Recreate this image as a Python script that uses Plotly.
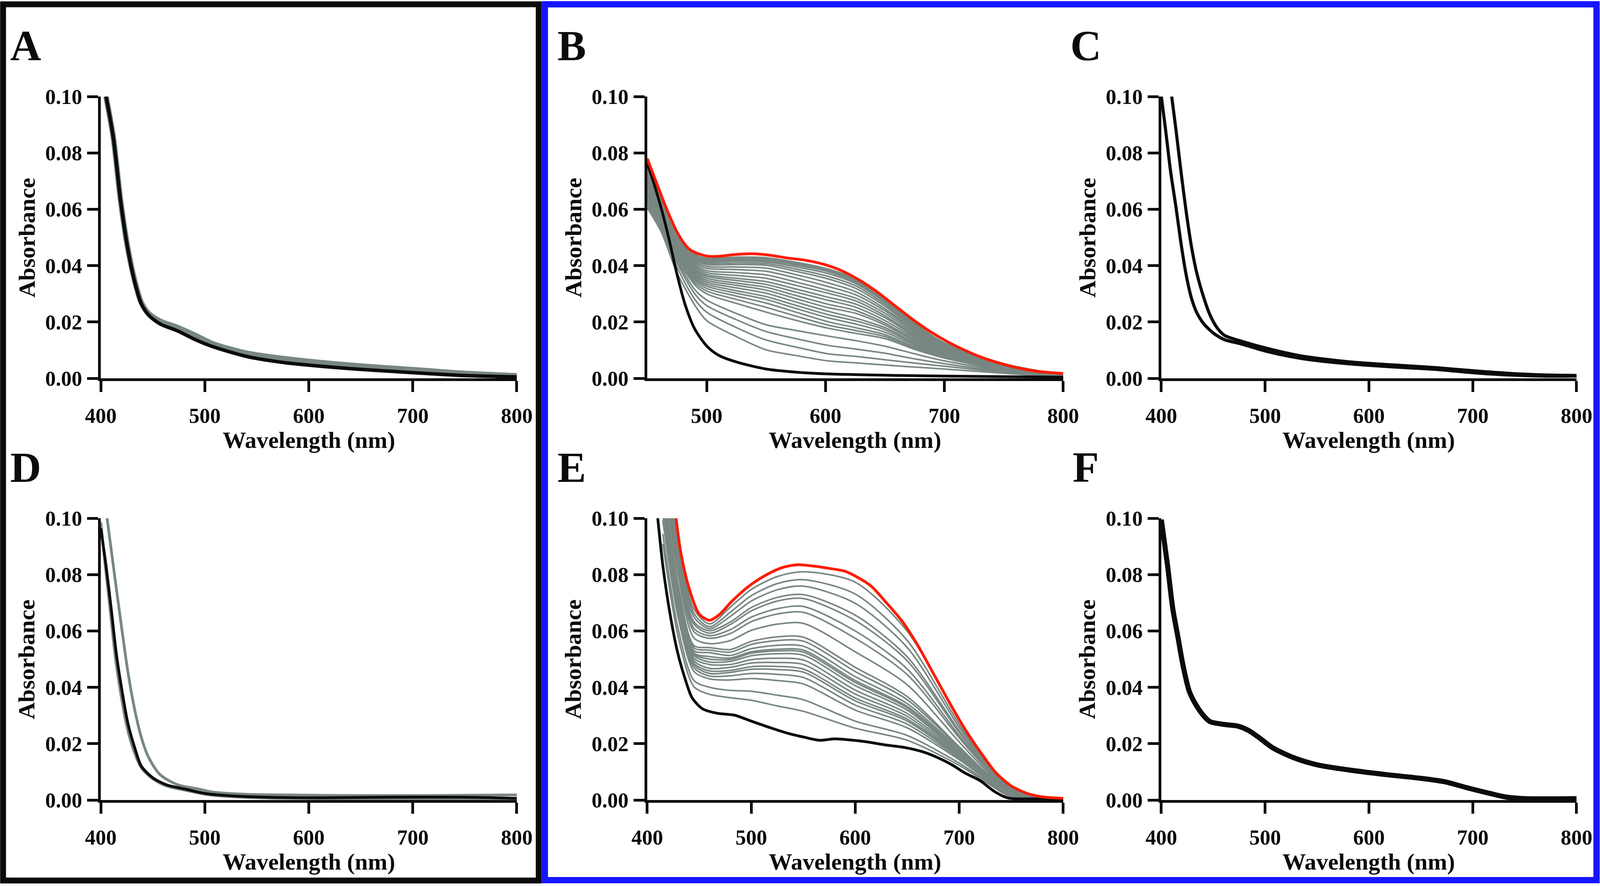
import plotly.graph_objects as go
from plotly.subplots import make_subplots

# ---------------------------------------------------------------------------
# Values (wavelength in nm, absorbance)
# ---------------------------------------------------------------------------

# Panel A
A_WL = [405, 412, 419, 426, 433, 439, 446, 457, 474, 491, 508, 542, 576, 611, 645, 679, 714, 748, 800]
A_BLACK = [0.100, 0.0855, 0.0631, 0.0458, 0.0336, 0.0264, 0.0224, 0.0193, 0.0168, 0.0137, 0.0112,
           0.0076, 0.0056, 0.0043, 0.0033, 0.0025, 0.0017, 0.0010, 0.0005]
A_GRAY = [0.100, 0.0855, 0.0631, 0.0460, 0.0340, 0.0268, 0.0230, 0.0203, 0.0180, 0.0152, 0.0122,
          0.0088, 0.0070, 0.0056, 0.0045, 0.0036, 0.0027, 0.0018, 0.0009]

# Panel B
B_RED_WL = [450, 455, 460, 465, 470, 475, 480, 485, 490, 500, 510, 523, 538, 553, 568, 583, 598,
            613, 628, 643, 658, 673, 688, 703, 718, 733, 748, 763, 778, 800]
B_RED = [0.078, 0.0725, 0.067, 0.0615, 0.0565, 0.0520, 0.0485, 0.0460, 0.0447, 0.0434, 0.0433,
         0.0439, 0.0442, 0.0437, 0.0427, 0.0419, 0.0405, 0.0383, 0.0350, 0.0308, 0.0259, 0.0210,
         0.0166, 0.0129, 0.0098, 0.0072, 0.0052, 0.0036, 0.0025, 0.0017]
B_BLACK_WL = [450, 455, 462, 468, 475, 482, 490, 500, 510, 525, 550, 575, 600, 650, 700, 750, 800]
B_BLACK = [0.0763, 0.070, 0.060, 0.050, 0.037, 0.026, 0.0175, 0.0115, 0.0082, 0.0058, 0.0033,
           0.0022, 0.0016, 0.0011, 0.0008, 0.0006, 0.0004]
B_GRAY_WL = [450, 462, 475, 490, 500, 525, 550, 575, 602, 625, 650, 675, 700, 750, 800]
B_GRAY = [
    [0.0770, 0.0650, 0.0505, 0.0440, 0.0426, 0.0430, 0.0428, 0.0412, 0.0388, 0.0353, 0.0284, 0.0195, 0.0126, 0.0052, 0.0012],
    [0.0763, 0.0645, 0.0500, 0.0436, 0.0422, 0.0425, 0.0423, 0.0407, 0.0383, 0.0348, 0.0280, 0.0192, 0.0124, 0.0051, 0.0012],
    [0.0756, 0.0640, 0.0496, 0.0432, 0.0418, 0.0421, 0.0418, 0.0402, 0.0379, 0.0343, 0.0275, 0.0189, 0.0122, 0.0050, 0.0011],
    [0.0749, 0.0635, 0.0492, 0.0428, 0.0414, 0.0416, 0.0413, 0.0396, 0.0372, 0.0337, 0.0270, 0.0186, 0.0120, 0.0049, 0.0011],
    [0.0742, 0.0630, 0.0488, 0.0424, 0.0409, 0.0410, 0.0407, 0.0388, 0.0362, 0.0329, 0.0263, 0.0181, 0.0117, 0.0048, 0.0011],
    [0.0735, 0.0625, 0.0484, 0.0420, 0.0404, 0.0404, 0.0401, 0.0380, 0.0353, 0.0320, 0.0256, 0.0176, 0.0114, 0.0047, 0.0010],
    [0.0728, 0.0620, 0.0480, 0.0414, 0.0397, 0.0395, 0.0391, 0.0368, 0.0339, 0.0308, 0.0247, 0.0170, 0.0111, 0.0046, 0.0010],
    [0.0721, 0.0615, 0.0476, 0.0408, 0.0390, 0.0386, 0.0380, 0.0356, 0.0326, 0.0297, 0.0240, 0.0166, 0.0108, 0.0045, 0.0010],
    [0.0714, 0.0610, 0.0472, 0.0402, 0.0382, 0.0375, 0.0367, 0.0342, 0.0312, 0.0285, 0.0231, 0.0160, 0.0105, 0.0044, 0.0009],
    [0.0707, 0.0605, 0.0468, 0.0396, 0.0375, 0.0365, 0.0355, 0.0330, 0.0302, 0.0275, 0.0222, 0.0154, 0.0102, 0.0042, 0.0009],
    [0.0700, 0.0600, 0.0464, 0.0390, 0.0368, 0.0355, 0.0343, 0.0317, 0.0288, 0.0264, 0.0215, 0.0150, 0.0099, 0.0041, 0.0009],
    [0.0693, 0.0595, 0.0460, 0.0384, 0.0362, 0.0347, 0.0333, 0.0306, 0.0277, 0.0253, 0.0205, 0.0144, 0.0096, 0.0040, 0.0008],
    [0.0686, 0.0590, 0.0456, 0.0378, 0.0355, 0.0338, 0.0323, 0.0294, 0.0263, 0.0241, 0.0196, 0.0138, 0.0093, 0.0039, 0.0008],
    [0.0679, 0.0585, 0.0452, 0.0372, 0.0348, 0.0330, 0.0313, 0.0283, 0.0251, 0.0231, 0.0189, 0.0134, 0.0090, 0.0038, 0.0008],
    [0.0672, 0.0580, 0.0448, 0.0366, 0.0341, 0.0321, 0.0302, 0.0271, 0.0238, 0.0214, 0.0180, 0.0128, 0.0087, 0.0036, 0.0007],
    [0.0665, 0.0575, 0.0444, 0.0360, 0.0334, 0.0311, 0.0290, 0.0259, 0.0226, 0.0204, 0.0173, 0.0123, 0.0084, 0.0035, 0.0007],
    [0.0658, 0.0570, 0.0440, 0.0354, 0.0327, 0.0302, 0.0280, 0.0248, 0.0215, 0.0193, 0.0164, 0.0118, 0.0081, 0.0034, 0.0007],
    [0.0651, 0.0565, 0.0436, 0.0348, 0.0319, 0.0292, 0.0267, 0.0235, 0.0201, 0.0180, 0.0155, 0.0112, 0.0078, 0.0033, 0.0006],
    [0.0644, 0.0560, 0.0432, 0.0340, 0.0310, 0.0280, 0.0252, 0.0221, 0.0189, 0.0170, 0.0148, 0.0107, 0.0075, 0.0031, 0.0006],
    [0.0637, 0.0555, 0.0428, 0.0332, 0.0300, 0.0266, 0.0235, 0.0206, 0.0178, 0.0160, 0.0141, 0.0103, 0.0072, 0.0030, 0.0006],
    [0.0630, 0.0548, 0.0420, 0.0315, 0.0278, 0.0230, 0.0190, 0.0170, 0.0150, 0.0134, 0.0114, 0.0087, 0.0062, 0.0027, 0.0005],
    [0.0622, 0.0540, 0.0410, 0.0300, 0.0258, 0.0208, 0.0166, 0.0141, 0.0117, 0.0104, 0.0089, 0.0069, 0.0052, 0.0024, 0.0005],
    [0.0614, 0.0530, 0.0395, 0.0280, 0.0235, 0.0180, 0.0136, 0.0111, 0.0087, 0.0078, 0.0066, 0.0054, 0.0043, 0.0021, 0.0004],
    [0.0605, 0.0518, 0.0375, 0.0260, 0.0205, 0.0148, 0.0101, 0.0081, 0.0062, 0.0055, 0.0047, 0.0040, 0.0033, 0.0018, 0.0004],
]

# Panel C (two black spectra)
C_WL1 = [400, 404, 409, 414, 419, 424, 429, 434, 441, 451, 461, 477, 500, 534, 567, 600, 634, 667,
         700, 733, 767, 800]
C_ABS1 = [0.100, 0.0885, 0.0732, 0.0610, 0.0478, 0.0366, 0.0285, 0.0234, 0.0193, 0.0158, 0.0137,
          0.0122, 0.0097, 0.0071, 0.0056, 0.0046, 0.0038, 0.0031, 0.0020, 0.0012, 0.0008, 0.0008]
C_WL2 = [410, 414, 419, 424, 429, 434, 441, 447, 454, 461, 477, 500, 534, 567, 600, 634, 667, 700,
         733, 767, 800]
C_ABS2 = [0.100, 0.0885, 0.0732, 0.0590, 0.0468, 0.0376, 0.0285, 0.0224, 0.0178, 0.0152, 0.0132,
          0.0108, 0.0080, 0.0064, 0.0053, 0.0045, 0.0037, 0.0027, 0.0018, 0.0012, 0.0010]

# Panel D
D_BLACK_WL = [400, 405, 410, 415, 421, 426, 433, 439, 450, 463, 481, 501, 525, 559, 611, 679, 748, 800]
D_BLACK = [0.0964, 0.0832, 0.0679, 0.0517, 0.0374, 0.0273, 0.0181, 0.0120, 0.0079, 0.0054, 0.0039,
           0.0023, 0.0015, 0.0010, 0.0008, 0.0010, 0.0010, 0.0006]
D_GRAY1_WL = [400, 404, 409, 414, 420, 425, 432, 439, 450, 463, 481, 501, 525, 560, 611, 679, 748, 800]
D_GRAY1 = [0.0985, 0.0840, 0.0675, 0.0505, 0.0360, 0.0262, 0.0172, 0.0114, 0.0075, 0.0050, 0.0035,
           0.0020, 0.0012, 0.0007, 0.0005, 0.0005, 0.0005, 0.0005]
D_GRAY2_WL = [406, 412, 419, 426, 433, 439, 446, 457, 474, 494, 508, 542, 577, 645, 713, 800]
D_GRAY2 = [0.100, 0.0832, 0.0639, 0.0456, 0.0313, 0.0222, 0.0151, 0.0090, 0.0054, 0.0039, 0.0028,
           0.0020, 0.0018, 0.0016, 0.0016, 0.0018]

# Panel E
E_RED_WL = [415, 425, 432, 440, 450, 460, 470, 480, 490, 500, 515, 530, 545, 560, 575, 590, 600, 615,
            630, 645, 660, 675, 690, 705, 720, 735, 750, 765, 780, 800]
E_RED = [0.135, 0.108, 0.0885, 0.0755, 0.066, 0.0638, 0.0660, 0.0700, 0.0735, 0.0765, 0.0800, 0.0825,
         0.0835, 0.0830, 0.0822, 0.0812, 0.0795, 0.0760, 0.0700, 0.0635, 0.0550, 0.0450, 0.0350,
         0.0255, 0.0172, 0.0098, 0.0050, 0.0024, 0.0011, 0.0006]
E_BLACK_WL = [408, 415, 422, 429, 436, 443, 453, 467, 484, 500, 518, 535, 552, 566, 580, 593, 610, 628,
              648, 665, 679, 693, 706, 720, 734, 747, 770, 800]
E_BLACK = [0.108, 0.0832, 0.0659, 0.0527, 0.0435, 0.0364, 0.0324, 0.0308, 0.0301, 0.0280, 0.0257,
           0.0237, 0.0222, 0.0212, 0.0217, 0.0214, 0.0207, 0.0196, 0.0186, 0.0171, 0.0151, 0.0125,
           0.0095, 0.0069, 0.0030, 0.0007, 0.0004, 0.0003]
E_GRAY_WL = [415, 430, 445, 460, 480, 500, 525, 550, 600, 650, 700, 725, 750, 775, 800]
E_GRAY = [
    [0.1330, 0.0924, 0.0677, 0.0625, 0.0685, 0.0747, 0.0793, 0.0810, 0.0773, 0.0599, 0.0281, 0.0146, 0.0046, 0.0016, 0.0006],
    [0.1307, 0.0904, 0.0662, 0.0615, 0.0667, 0.0725, 0.0768, 0.0782, 0.0731, 0.0566, 0.0269, 0.0140, 0.0044, 0.0016, 0.0006],
    [0.1287, 0.0888, 0.0649, 0.0608, 0.0652, 0.0706, 0.0746, 0.0759, 0.0698, 0.0541, 0.0258, 0.0135, 0.0043, 0.0015, 0.0006],
    [0.1262, 0.0867, 0.0632, 0.0601, 0.0632, 0.0683, 0.0719, 0.0729, 0.0656, 0.0508, 0.0246, 0.0128, 0.0041, 0.0015, 0.0006],
    [0.1250, 0.0857, 0.0624, 0.0592, 0.0623, 0.0671, 0.0706, 0.0715, 0.0637, 0.0494, 0.0240, 0.0126, 0.0040, 0.0014, 0.0006],
    [0.1226, 0.0837, 0.0609, 0.0583, 0.0605, 0.0649, 0.0679, 0.0687, 0.0600, 0.0465, 0.0229, 0.0120, 0.0038, 0.0014, 0.0006],
    [0.1208, 0.0823, 0.0597, 0.0574, 0.0591, 0.0633, 0.0660, 0.0666, 0.0574, 0.0445, 0.0221, 0.0116, 0.0037, 0.0013, 0.0005],
    [0.1175, 0.0795, 0.0575, 0.0555, 0.0566, 0.0602, 0.0624, 0.0627, 0.0526, 0.0409, 0.0206, 0.0108, 0.0035, 0.0013, 0.0005],
    [0.1133, 0.0761, 0.0548, 0.0541, 0.0534, 0.0563, 0.0579, 0.0578, 0.0471, 0.0367, 0.0189, 0.0100, 0.0032, 0.0012, 0.0005],
    [0.1121, 0.0751, 0.0540, 0.0532, 0.0525, 0.0552, 0.0566, 0.0564, 0.0456, 0.0356, 0.0185, 0.0097, 0.0031, 0.0012, 0.0005],
    [0.1106, 0.0738, 0.0530, 0.0523, 0.0513, 0.0537, 0.0549, 0.0546, 0.0438, 0.0342, 0.0179, 0.0095, 0.0030, 0.0011, 0.0005],
    [0.1094, 0.0728, 0.0522, 0.0509, 0.0504, 0.0526, 0.0535, 0.0532, 0.0424, 0.0332, 0.0175, 0.0092, 0.0029, 0.0011, 0.0005],
    [0.1088, 0.0723, 0.0519, 0.0500, 0.0499, 0.0521, 0.0529, 0.0525, 0.0417, 0.0327, 0.0173, 0.0091, 0.0028, 0.0011, 0.0005],
    [0.1079, 0.0716, 0.0513, 0.0490, 0.0492, 0.0512, 0.0519, 0.0514, 0.0406, 0.0319, 0.0169, 0.0090, 0.0027, 0.0010, 0.0005],
    [0.1064, 0.0704, 0.0503, 0.0481, 0.0481, 0.0498, 0.0503, 0.0497, 0.0390, 0.0307, 0.0165, 0.0087, 0.0026, 0.0010, 0.0005],
    [0.1050, 0.0692, 0.0494, 0.0467, 0.0471, 0.0486, 0.0488, 0.0481, 0.0376, 0.0297, 0.0160, 0.0085, 0.0025, 0.0010, 0.0005],
    [0.1037, 0.0681, 0.0485, 0.0458, 0.0460, 0.0473, 0.0474, 0.0465, 0.0362, 0.0287, 0.0156, 0.0083, 0.0024, 0.0009, 0.0004],
    [0.1028, 0.0673, 0.0479, 0.0449, 0.0453, 0.0464, 0.0463, 0.0454, 0.0352, 0.0280, 0.0153, 0.0081, 0.0023, 0.0009, 0.0004],
    [0.1011, 0.0660, 0.0469, 0.0440, 0.0441, 0.0449, 0.0446, 0.0435, 0.0337, 0.0269, 0.0148, 0.0079, 0.0022, 0.0009, 0.0004],
    [0.0992, 0.0644, 0.0456, 0.0430, 0.0426, 0.0431, 0.0424, 0.0412, 0.0319, 0.0256, 0.0143, 0.0076, 0.0020, 0.0008, 0.0004],
    [0.0944, 0.0604, 0.0424, 0.0400, 0.0389, 0.0386, 0.0372, 0.0356, 0.0280, 0.0229, 0.0131, 0.0070, 0.0015, 0.0006, 0.0004],
    [0.0909, 0.0575, 0.0402, 0.0375, 0.0363, 0.0354, 0.0334, 0.0315, 0.0255, 0.0212, 0.0123, 0.0065, 0.0010, 0.0005, 0.0004],
]

# Panel F
F_WL = [400, 406, 411, 416, 421, 427, 434, 441, 447, 461, 474, 484, 494, 507, 527, 550, 584, 617, 650,
        674, 694, 717, 733, 750, 800]
F_ABS = [0.0995, 0.0832, 0.0680, 0.0578, 0.0476, 0.0385, 0.0334, 0.0298, 0.0278, 0.0268, 0.0262,
         0.0247, 0.0222, 0.0186, 0.0151, 0.0125, 0.0105, 0.0090, 0.0077, 0.0064, 0.0044, 0.0023,
         0.0010, 0.0005, 0.0005]

Y_TICKS = [0.00, 0.02, 0.04, 0.06, 0.08, 0.10]
X_TICKS = [400, 500, 600, 700, 800]
X_TICKS_B = [500, 600, 700, 800]
PANEL_LETTERS = ["A", "B", "C", "D", "E", "F"]

# ---------------------------------------------------------------------------
# Styling
# ---------------------------------------------------------------------------
W, H = 4158, 2267  # reference canvas, used to turn pixel positions into paper fractions
SERIF = "Liberation Serif, Times New Roman, serif"
BLACK = "#0b0b0b"
GRAY = "#788782"
RED = "#ff1a00"
BLUE = "#1515ff"

# plot areas in pixels: (left, right) per column, (top, bottom) per row
COLS_PX = [(262, 1343), (1682, 2763), (3018, 4097)]
ROWS_PX = [(247, 968), (1326, 2047)]


def line(x, y, color, width):
    return go.Scatter(x=x, y=y, mode="lines", line=dict(color=color, width=width, shape="spline", smoothing=0.8),
                      hoverinfo="skip", showlegend=False)


def main():
    fig = make_subplots(rows=2, cols=3)

    # A
    fig.add_trace(line(A_WL, A_GRAY, GRAY, 14), row=1, col=1)
    fig.add_trace(line(A_WL, A_BLACK, BLACK, 9), row=1, col=1)

    # B: titration series, grey intermediates, black start, red end
    for row in B_GRAY:
        fig.add_trace(line(B_GRAY_WL, row, GRAY, 4), row=1, col=2)
    fig.add_trace(line(B_BLACK_WL, B_BLACK, BLACK, 7), row=1, col=2)
    fig.add_trace(line(B_RED_WL, B_RED, RED, 7), row=1, col=2)

    # C
    fig.add_trace(line(C_WL2, C_ABS2, BLACK, 8), row=1, col=3)
    fig.add_trace(line(C_WL1, C_ABS1, BLACK, 8), row=1, col=3)

    # D
    fig.add_trace(line(D_GRAY2_WL, D_GRAY2, GRAY, 7), row=2, col=1)
    fig.add_trace(line(D_GRAY1_WL, D_GRAY1, GRAY, 7), row=2, col=1)
    fig.add_trace(line(D_BLACK_WL, D_BLACK, BLACK, 7), row=2, col=1)

    # E
    for row in E_GRAY:
        fig.add_trace(line(E_GRAY_WL, row, GRAY, 4), row=2, col=2)
    fig.add_trace(line(E_BLACK_WL, E_BLACK, BLACK, 7), row=2, col=2)
    fig.add_trace(line(E_RED_WL, E_RED, RED, 7), row=2, col=2)

    # F
    fig.add_trace(line(F_WL, F_ABS, BLACK, 13), row=2, col=3)

    tickfont = dict(family=SERIF, size=54, color=BLACK, weight="bold")
    annotations = []
    for r in range(2):
        top, bottom = ROWS_PX[r]
        for c in range(3):
            left, right = COLS_PX[c]
            is_b = (r == 0 and c == 1)
            fig.update_xaxes(
                domain=[left / W, right / W],
                range=[450, 800] if is_b else [400, 800],
                tickvals=X_TICKS_B if is_b else X_TICKS,
                showline=True, linewidth=7, linecolor=BLACK,
                ticks="outside", ticklen=28, tickwidth=7, tickcolor=BLACK,
                ticklabelstandoff=14, automargin=False,
                showgrid=False, zeroline=False, tickfont=tickfont,
                row=r + 1, col=c + 1,
            )
            fig.update_yaxes(
                domain=[1 - bottom / H, 1 - top / H],
                range=[0, 0.1], tickvals=Y_TICKS, tickformat=".2f",
                showline=True, linewidth=7, linecolor=BLACK,
                ticks="outside", ticklen=28, tickwidth=7, tickcolor=BLACK,
                ticklabelstandoff=2, automargin=False,
                showgrid=False, zeroline=False, tickfont=tickfont,
                row=r + 1, col=c + 1,
            )

            # Axis titles
            annotations.append(dict(
                text="<b>Absorbance</b>", textangle=-90, x=(left - 192) / W, y=1 - (top + bottom) / 2 / H,
                xref="paper", yref="paper", showarrow=False, xanchor="center", yanchor="middle",
                font=dict(family=SERIF, size=60, color=BLACK)))
            annotations.append(dict(
                text="<b>Wavelength (nm)</b>", x=(left + right) / 2 / W, y=1 - (bottom + 158) / H,
                xref="paper", yref="paper", showarrow=False, xanchor="center", yanchor="middle",
                font=dict(family=SERIF, size=60, color=BLACK)))

            # Panel letter
            annotations.append(dict(
                text="<b>%s</b>" % PANEL_LETTERS[r * 3 + c], x=(left - 196) / W, y=1 - (top - 130) / H,
                xref="paper", yref="paper", showarrow=False, xanchor="center", yanchor="middle",
                font=dict(family=SERIF, size=110, color=BLACK)))

    # Frames: black around column A/D, blue around B/C/E/F
    shapes = [
        dict(type="rect", xref="paper", yref="paper", x0=8 / W, x1=1400 / W, y0=1 - 2253 / H, y1=1 - 11 / H,
             line=dict(color=BLACK, width=15)),
        dict(type="rect", xref="paper", yref="paper", x0=1416 / W, x1=4149 / W, y0=1 - 2252 / H, y1=1 - 11 / H,
             line=dict(color=BLUE, width=16)),
    ]

    # size follows the browser window so nothing is cut at the right/bottom edge
    fig.update_layout(
        autosize=True,
        margin=dict(l=0, r=0, t=0, b=0, autoexpand=False),
        plot_bgcolor="white", paper_bgcolor="white",
        showlegend=False,
        annotations=annotations,
        shapes=shapes,
    )

    fig.write_html(
        "out.html",
        config={"displayModeBar": False},
        default_width="100vw",
        default_height="100vh",
        post_script="document.body.style.margin='0';document.body.style.overflow='hidden';",
    )


if __name__ == "__main__":
    main()
